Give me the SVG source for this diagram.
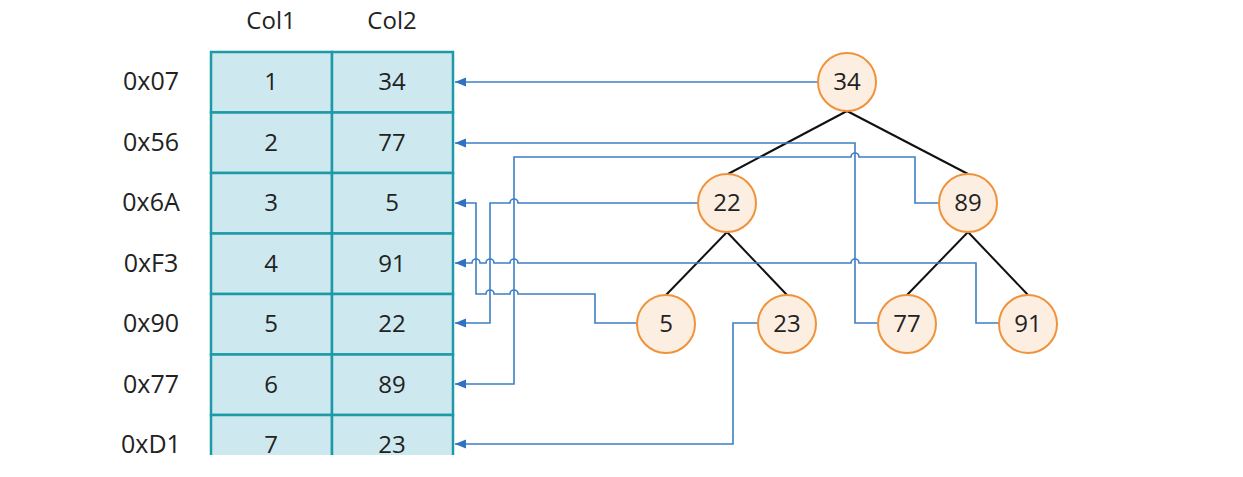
<svg xmlns="http://www.w3.org/2000/svg" width="1243" height="477" viewBox="0 0 1243 477">
<style>
text{font-family:"Open Sans","Liberation Sans",sans-serif;font-size:24px;fill:#222;text-anchor:middle}
.lbl{font-size:25px}
.cell{fill:#cde9ef;stroke:#1e9aa6;stroke-width:2.5}
.conn{fill:none;stroke:#3c7fc6;stroke-width:1.6}
.edge{stroke:#111;stroke-width:2}
.node circle{fill:#fdeee2;stroke:#f0923a;stroke-width:2}
</style>
<defs>
<marker id="arr" markerWidth="12" markerHeight="10" refX="11" refY="5" orient="auto" markerUnits="userSpaceOnUse">
<path d="M11,5 L0,0.5 L0,9.5 Z" fill="#2f73c0"/>
</marker>
</defs>
<rect width="1243" height="477" fill="#fff"/>
<g id="headers">
<text x="271" y="29">Col1</text>
<text x="392" y="29">Col2</text>
</g>
<g id="table">
<rect class="cell" x="211" y="52" width="121" height="60.5"/>
<rect class="cell" x="332" y="52" width="121" height="60.5"/>
<rect class="cell" x="211" y="112.5" width="121" height="60.5"/>
<rect class="cell" x="332" y="112.5" width="121" height="60.5"/>
<rect class="cell" x="211" y="173" width="121" height="60.5"/>
<rect class="cell" x="332" y="173" width="121" height="60.5"/>
<rect class="cell" x="211" y="233.5" width="121" height="60.5"/>
<rect class="cell" x="332" y="233.5" width="121" height="60.5"/>
<rect class="cell" x="211" y="294" width="121" height="60.5"/>
<rect class="cell" x="332" y="294" width="121" height="60.5"/>
<rect class="cell" x="211" y="354.5" width="121" height="60.5"/>
<rect class="cell" x="332" y="354.5" width="121" height="60.5"/>
<rect class="cell" x="211" y="415" width="121" height="60.5"/>
<rect class="cell" x="332" y="415" width="121" height="60.5"/>
<rect x="205" y="455" width="260" height="22" fill="#fff"/>
<text class="lbl" x="151" y="90">0x07</text><text x="271" y="90">1</text><text x="392" y="90">34</text>
<text class="lbl" x="151" y="151">0x56</text><text x="271" y="151">2</text><text x="392" y="151">77</text>
<text class="lbl" x="151" y="211">0x6A</text><text x="271" y="211">3</text><text x="392" y="211">5</text>
<text class="lbl" x="151" y="272">0xF3</text><text x="271" y="272">4</text><text x="392" y="272">91</text>
<text class="lbl" x="151" y="332">0x90</text><text x="271" y="332">5</text><text x="392" y="332">22</text>
<text class="lbl" x="151" y="393">0x77</text><text x="271" y="393">6</text><text x="392" y="393">89</text>
<text class="lbl" x="151" y="453">0xD1</text><text x="271" y="453">7</text><text x="392" y="453">23</text>
</g>
<g id="tree-edges">
<line class="edge" x1="847" y1="111" x2="728" y2="174"/>
<line class="edge" x1="847" y1="111" x2="968" y2="174"/>
<line class="edge" x1="727" y1="232" x2="666" y2="295"/>
<line class="edge" x1="727" y1="232" x2="787" y2="295"/>
<line class="edge" x1="968" y1="232" x2="907" y2="295"/>
<line class="edge" x1="968" y1="232" x2="1028" y2="295"/>
</g>
<g id="connectors">
<path class="conn" marker-end="url(#arr)" d="M818,82 H455"/>
<path class="conn" marker-end="url(#arr)" d="M878,323 H855 V143 H455"/>
<path class="conn" marker-end="url(#arr)" d="M939,203 H915 V157 H859 A4,4 0 0 0 851,157 H514 V384 H455"/>
<path class="conn" marker-end="url(#arr)" d="M698,203 H518 A4,4 0 0 0 510,203 H490 V323 H455"/>
<path class="conn" marker-end="url(#arr)" d="M637,323 H595 V294 H518 A4,4 0 0 0 510,294 H494 A4,4 0 0 0 486,294 H476 V203 H455"/>
<path class="conn" marker-end="url(#arr)" d="M999,323 H976 V263 H859 A4,4 0 0 0 851,263 H518 A4,4 0 0 0 510,263 H494 A4,4 0 0 0 486,263 H480 A4,4 0 0 0 472,263 H455"/>
<path class="conn" marker-end="url(#arr)" d="M758,323 H733 V444 H455"/>
</g>
<g id="node-34" class="node"><circle cx="847" cy="82" r="29"/><text x="847" y="90">34</text></g>
<g id="node-22" class="node"><circle cx="727" cy="203" r="29"/><text x="727" y="211">22</text></g>
<g id="node-89" class="node"><circle cx="968" cy="203" r="29"/><text x="968" y="211">89</text></g>
<g id="node-5" class="node"><circle cx="666" cy="324" r="29"/><text x="666" y="332">5</text></g>
<g id="node-23" class="node"><circle cx="787" cy="324" r="29"/><text x="787" y="332">23</text></g>
<g id="node-77" class="node"><circle cx="907" cy="324" r="29"/><text x="907" y="332">77</text></g>
<g id="node-91" class="node"><circle cx="1028" cy="324" r="29"/><text x="1028" y="332">91</text></g>
</svg>
